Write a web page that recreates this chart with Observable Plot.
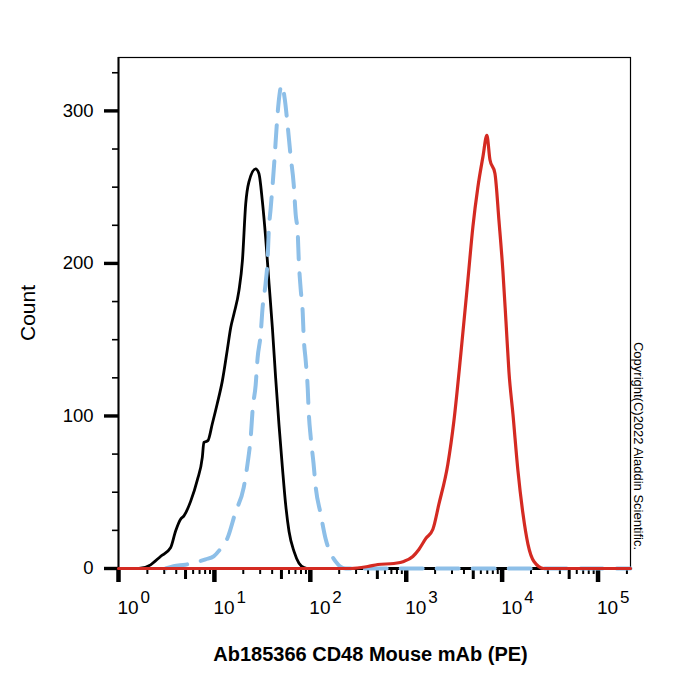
<!DOCTYPE html>
<html>
<head>
<meta charset="utf-8">
<script src="https://cdn.jsdelivr.net/npm/d3@7"></script>
<script src="https://cdn.jsdelivr.net/npm/@observablehq/plot@0.6"></script>
<style>
  html, body { margin: 0; padding: 0; background: #fff; }
  #chart svg { display: block; }
</style>
</head>
<body>
<div id="chart"></div>
<script>
// ---- data ----
const xLabel = "Ab185366 CD48 Mouse mAb (PE)";
const yLabel = "Count";
const copyrightText = "Copyright(C)2022 Aladdin Scientific.";

const xDecades = [1, 10, 100, 1000, 10000, 100000];
const xExponents = ["0", "1", "2", "3", "4", "5"];
const xMidTicks = [5, 50, 500, 5000, 50000];
const xMinorMultipliers = [2, 3, 4, 6, 7, 8, 9];
const yMajorTicks = [0, 100, 200, 300];
const yMinorTicks = [25, 50, 75, 125, 150, 175, 225, 250, 275, 325];

// black (control)
const blackX = [1.5, 1.63, 2.16, 2.74, 3.49, 3.94, 4.44, 4.81, 5.65, 6.63, 7.48, 7.77, 8.55, 9.51, 10.7, 12.1, 13.6, 14.8, 16.0, 18.0, 19.6, 21.2, 22.9, 26.9, 29.1, 31.6, 34.2, 37.1, 40.2, 43.5, 47.1, 51.2, 55.3, 60.0, 67.6, 76.2, 85.9, 96.9, 218000];
const blackY = [0, 0, 2.4, 7.9, 13.6, 24.6, 32.3, 34.5, 44, 57.9, 72.8, 82.7, 83.8, 94.9, 108, 123, 143, 158, 167, 182, 202, 239, 253.5, 262, 259, 241, 217, 187, 158, 125, 94.5, 66, 42, 24.3, 11.2, 3.5, 0.7, 0, 0];

// light blue dashed (isotype control)
const blueX = [3.10, 3.75, 5.00, 6.36, 8.09, 9.82, 11.6, 13.7, 16.6, 20.2, 22.2, 23.9, 25.1, 26.9, 28.2, 30.3, 31.8, 34.2, 35.9, 36.8, 38.6, 40.5, 42.5, 44.6, 46.8, 50.3, 54.1, 58.1, 62.4, 67.1, 70.4, 73.9, 75.7, 79.4, 83.3, 85.3, 89.6, 94.0, 96.2, 101, 108, 114, 128, 145, 163, 184, 208, 234, 218000];
const blueY = [0, 1.5, 2.5, 4, 6, 8, 13, 20, 37, 53, 69, 86, 105, 120, 138, 153, 171, 187, 203, 220, 236, 252, 270, 290, 306, 317, 308, 290, 270, 252, 232, 220, 203, 183, 168, 152, 136, 118, 103, 86, 69, 53, 36, 19, 10, 4.5, 1, 0, 0];

// red (CD48 PE stained)
const redX = [1, 264, 397, 506, 743, 944, 1172, 1355, 1603, 1897, 2188, 2716, 3141, 3715, 4395, 4955, 5585, 6310, 6934, 7464, 8414, 9268, 10186, 10965, 11776, 12972, 14622, 16482, 18578, 21478, 27290, 218000];
const redY = [0, 0, 1.3, 2.6, 3.3, 4.6, 7.9, 12.5, 19.7, 25.7, 42, 68.4, 96.7, 141, 189, 224, 250, 270, 284, 268, 259, 228, 195, 162, 129, 101, 64, 36, 16, 4.6, 0, 0];

// ---- build tables ----
const toRows = (xs, ys) => xs.map((x, i) => ({x, y: ys[i]}));
const blackRows = toRows(blackX, blackY);
const blueRows = toRows(blueX, blueY);
const redRows = toRows(redX, redY);
const xMinorTicks = xDecades.flatMap(d => xMinorMultipliers.map(m => d * m)).filter(v => v <= 218000);

const font = "'Liberation Sans', Arial, Helvetica, sans-serif";

const chart = Plot.plot({
  width: 700,
  height: 700,
  marginLeft: 118,
  marginRight: 70,
  marginTop: 57,
  marginBottom: 132,
  style: {fontFamily: font, background: "#fff", color: "#000", overflow: "visible"},
  x: {type: "log", domain: [1, 218000]},
  y: {domain: [0, 335]},
  marks: [
    Plot.frame({stroke: "#000", strokeWidth: 1.2}),
    // y axis ticks
    Plot.axisY(yMinorTicks, {tickSize: 6, strokeWidth: 1.6, tickFormat: () => "", label: null}),
    Plot.axisY(yMajorTicks, {tickSize: 14, strokeWidth: 3.4, tickPadding: 11, fontSize: 18.5, label: null}),
    // x axis ticks
    Plot.axisX(xMinorTicks, {tickSize: 6, strokeWidth: 2, tickFormat: () => "", label: null}),
    Plot.axisX(xMidTicks, {tickSize: 11, strokeWidth: 3, tickFormat: () => "", label: null}),
    Plot.axisX(xDecades, {tickSize: 14, strokeWidth: 4.5, tickFormat: () => "", label: null}),
    // axis lines
    Plot.ruleX([1], {stroke: "#000", strokeWidth: 2}),
    Plot.ruleY([0], {stroke: "#000", strokeWidth: 3}),
    // x tick labels 10^k
    Plot.text(xDecades, {x: d => d, text: () => "10", frameAnchor: "bottom", dy: 45, dx: -1, textAnchor: "start", lineAnchor: "bottom", fontSize: 19}),
    Plot.text(xDecades, {x: d => d, text: (d, i) => xExponents[i], frameAnchor: "bottom", dy: 34, dx: 22, textAnchor: "start", lineAnchor: "bottom", fontSize: 17}),
    // curves
    Plot.line(blackRows, {x: "x", y: "y", stroke: "#000", strokeWidth: 2.8, strokeLinejoin: "round", curve: "monotone-x"}),
    Plot.line(blueRows, {x: "x", y: "y", stroke: "#8dbfe8", strokeWidth: 4, strokeDasharray: "22,14", curve: "monotone-x"}),
    Plot.line(redRows, {x: "x", y: "y", stroke: "#d42a22", strokeWidth: 3.2, strokeLinejoin: "round", curve: "monotone-x"}),
    // labels
    Plot.text([yLabel], {text: d => d, frameAnchor: "left", textAnchor: "middle", rotate: -90, dx: -90, fontSize: 21}),
    Plot.text([xLabel], {text: d => d, frameAnchor: "bottom", dy: 92, dx: -4, fontSize: 20, fontWeight: "bold", lineAnchor: "bottom"}),
    Plot.text([copyrightText], {text: d => d, frameAnchor: "right", textAnchor: "middle", rotate: 90, dx: 8, dy: 133, fontSize: 13})
  ]
});

document.getElementById("chart").appendChild(chart);
</script>
</body>
</html>
